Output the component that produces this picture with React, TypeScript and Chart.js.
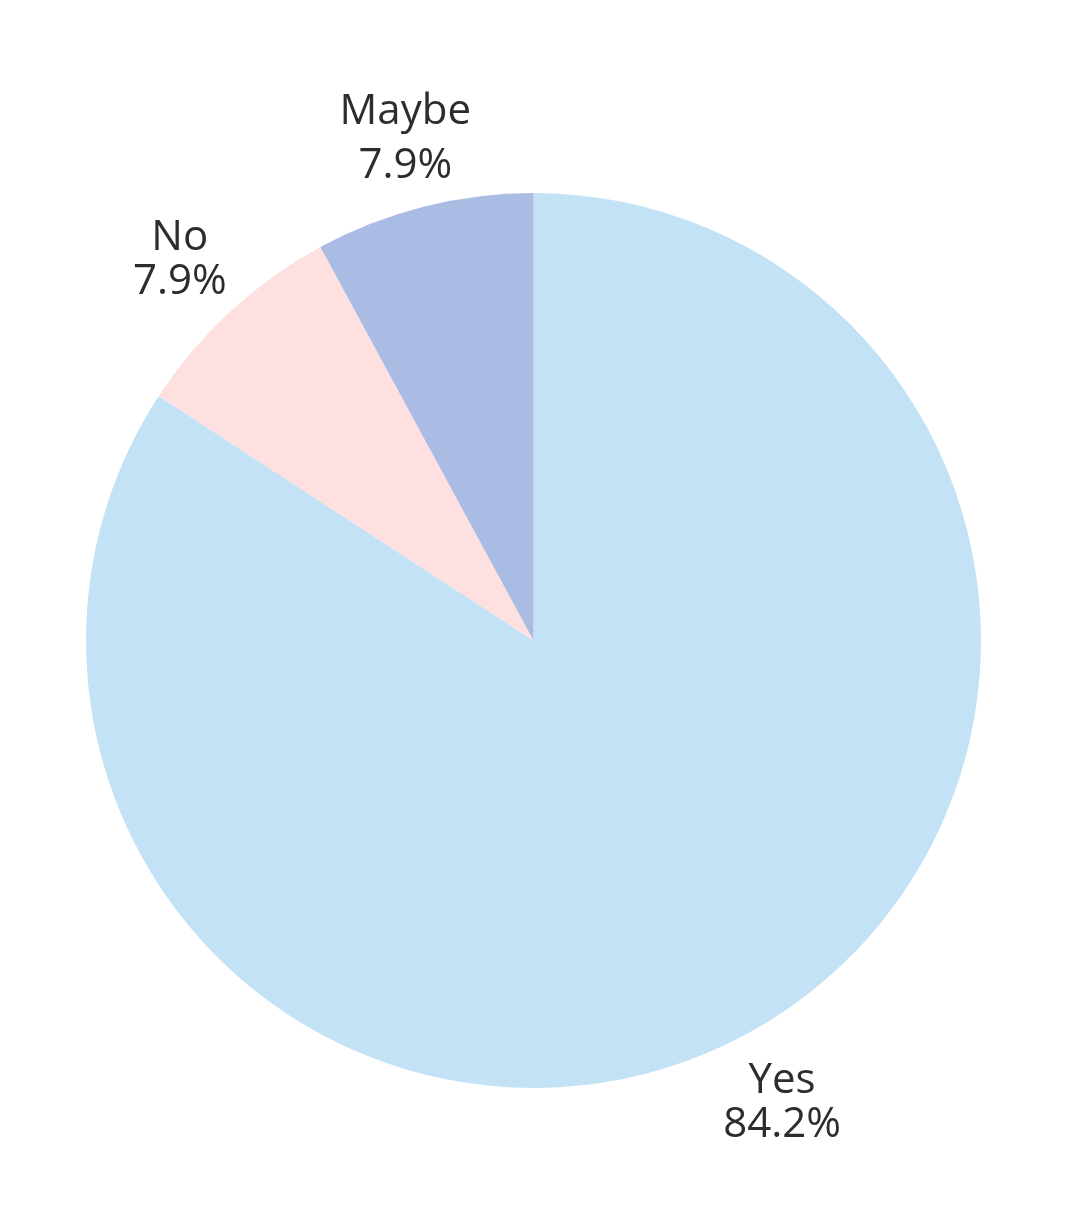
import React, { useEffect, useRef } from 'react';
import { Chart, registerables } from 'chart.js';

Chart.register(...registerables);

const categories = ['Yes', 'No', 'Maybe'];
const shares = [84.2, 7.9, 7.9];
const sliceColors = ['#C4E2F6', '#FEE0E0', '#AABCE3'];

const outsideLabels = {
  id: 'outsideLabels',
  afterDatasetsDraw(chart: any) {
    const ctx = chart.ctx;
    const meta = chart.getDatasetMeta(0);
    ctx.save();
    ctx.font = '42px "Open Sans"';
    ctx.fillStyle = '#2a2e2e';
    ctx.textAlign = 'center';
    ctx.textBaseline = 'alphabetic';
    meta.data.forEach((arc: any, i: number) => {
      const p = arc.getProps(['x', 'y', 'startAngle', 'endAngle', 'outerRadius'], true);
      const mid = (p.startAngle + p.endAngle) / 2;
      const d = p.outerRadius + 74.5;
      const cx = p.x + Math.cos(mid) * d;
      const cy = p.y + Math.sin(mid) * d;
      const lines = [categories[i], shares[i].toFixed(1) + '%'];
      const m = lines.map((l) => ctx.measureText(l));
      const gap = 14;
      const a1 = m[0].actualBoundingBoxAscent;
      const d1 = Math.max(0, m[0].actualBoundingBoxDescent);
      const a2 = m[1].actualBoundingBoxAscent;
      const d2 = Math.max(0, m[1].actualBoundingBoxDescent);
      const total = a1 + d1 + gap + a2 + d2;
      const top = cy - total / 2;
      const b1 = top + a1;
      const b2 = b1 + d1 + gap + a2;
      ctx.fillText(lines[0], cx, b1);
      ctx.fillText(lines[1], cx, b2);
    });
    ctx.restore();
  },
};

export default function App() {
  const ref = useRef<HTMLCanvasElement | null>(null);
  useEffect(() => {
    document.body.style.margin = '0';
    const canvas = ref.current;
    if (!canvas) return;
    const chart = new Chart(canvas, {
      type: 'pie',
      data: {
        labels: categories,
        datasets: [
          {
            data: shares,
            backgroundColor: sliceColors,
            borderWidth: 0,
            hoverOffset: 0,
          },
        ],
      },
      options: {
        responsive: false,
        animation: false,
        devicePixelRatio: 1,
        layout: { padding: { left: 86, right: 87, top: 193, bottom: 137 } },
        plugins: {
          legend: { display: false },
          tooltip: { enabled: false },
        },
      },
      plugins: [outsideLabels],
    });
    return () => chart.destroy();
  }, []);
  return (
    <div style={{ position: 'absolute', left: 0, top: 0, width: 1068, height: 1225, background: '#fff' }}>
      <canvas ref={ref} width={1068} height={1225} />
    </div>
  );
}
